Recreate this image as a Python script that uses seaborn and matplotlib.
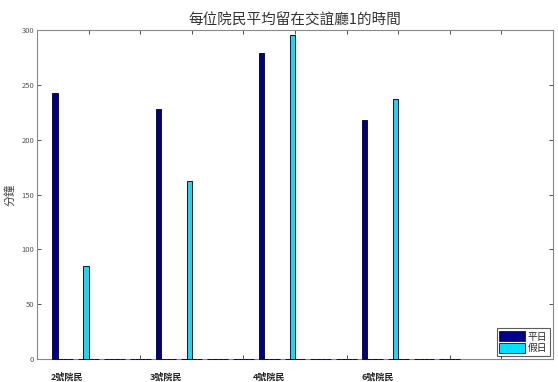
import matplotlib
matplotlib.use("Agg")
import matplotlib.pyplot as plt
import seaborn as sns
import pandas as pd
from matplotlib.patches import Patch

# ---- data ----
group_pos = [0.5, 1.0, 1.5, 2.0, 2.5, 3.0, 3.5, 4.0,
             4.5, 5.0, 5.5, 6.0, 6.5, 7.0, 7.5, 8.0]
weekday = [243, 0, 0, 0, 228, 0, 0, 0, 279, 0, 0, 0, 218, 0, 0, 0]
holiday = [0, 85, 0, 0, 0, 162, 0, 0, 0, 296, 0, 0, 0, 237, 0, 0]
series3 = [0, 0, 0, 0, 0, 0, 0, 0, 0, 0, 0, 0, 0, 0, 0, 0]
series4 = [0, 0, 0, 0, 0, 0, 0, 0, 0, 0, 0, 0, 0, 0, 0, 0]
series_names = ["平日", "假日", "s3", "s4"]
resident_labels = ["2號院民", "3號院民", "4號院民", "6號院民"]
resident_label_x = [0.58, 2.5, 4.5, 6.6]
title = "每位院民平均留在交誼廳1的時間"
ylabel = "分鐘"

rows = []
for vals, name in zip([weekday, holiday, series3, series4], series_names):
    for x, v in zip(group_pos, vals):
        rows.append({"x": x, "v": v, "s": name})
df = pd.DataFrame(rows)

sns.set_style("white")
plt.rcParams['font.family'] = ['Noto Sans CJK TC', 'DejaVu Sans']

fig = plt.figure(figsize=(5.58, 3.82), dpi=100)
ax = fig.add_axes([0.0663, 0.060, 0.9247, 0.861])

colors = ["#000080", "#1ED6F0", "#FFFF00", "#FF0000"]
sns.barplot(data=df, x="x", y="v", hue="s", hue_order=series_names,
            palette=colors, native_scale=True, width=0.8, ax=ax,
            edgecolor="#101030", linewidth=0.7, legend=False, errorbar=None,
            saturation=1)
for p in ax.patches:
    p.set_zorder(3)
    p.set_clip_on(False)

ax.set_xlim(0, 10)
ax.set_ylim(0, 300)
ax.set_xticks(range(1, 10))
ax.set_xticklabels([])
ax.set_yticks(range(0, 301, 50))
ax.tick_params(axis="both", direction="in", length=3, width=0.6,
               top=True, right=True, labelsize=5.5, colors="#333333",
               bottom=True, left=True, pad=2)
ax.tick_params(axis="y", labelcolor="#555555")
for sp in ax.spines.values():
    sp.set_color("#888888")
    sp.set_linewidth(0.8)
ax.set_xlabel("")
ax.set_ylabel(ylabel, fontsize=8, color="#444444")
ax.yaxis.set_label_coords(-0.042, 0.5)
ax.set_title(title, fontsize=10.5, color="#333333", pad=4)

for x, t in zip(resident_label_x, resident_labels):
    ax.text(x, -0.055, t, transform=ax.get_xaxis_transform(),
            ha="center", va="center", fontsize=6.5, fontweight="bold",
            color="#222222")

handles = [Patch(facecolor="#000090", edgecolor="#101030", linewidth=0.6),
           Patch(facecolor="#00E0FF", edgecolor="#101030", linewidth=0.6)]
leg = ax.legend(handles, series_names[:2], loc="lower right", fontsize=7,
                frameon=True, fancybox=False, handlelength=2.6,
                handleheight=1.2, borderpad=0.3, labelspacing=0.15,
                handletextpad=0.3, borderaxespad=0.3)
leg.get_frame().set_edgecolor("#333333")
leg.get_frame().set_linewidth(0.8)
leg.set_zorder(5)

fig.savefig("out.png", dpi=100)
